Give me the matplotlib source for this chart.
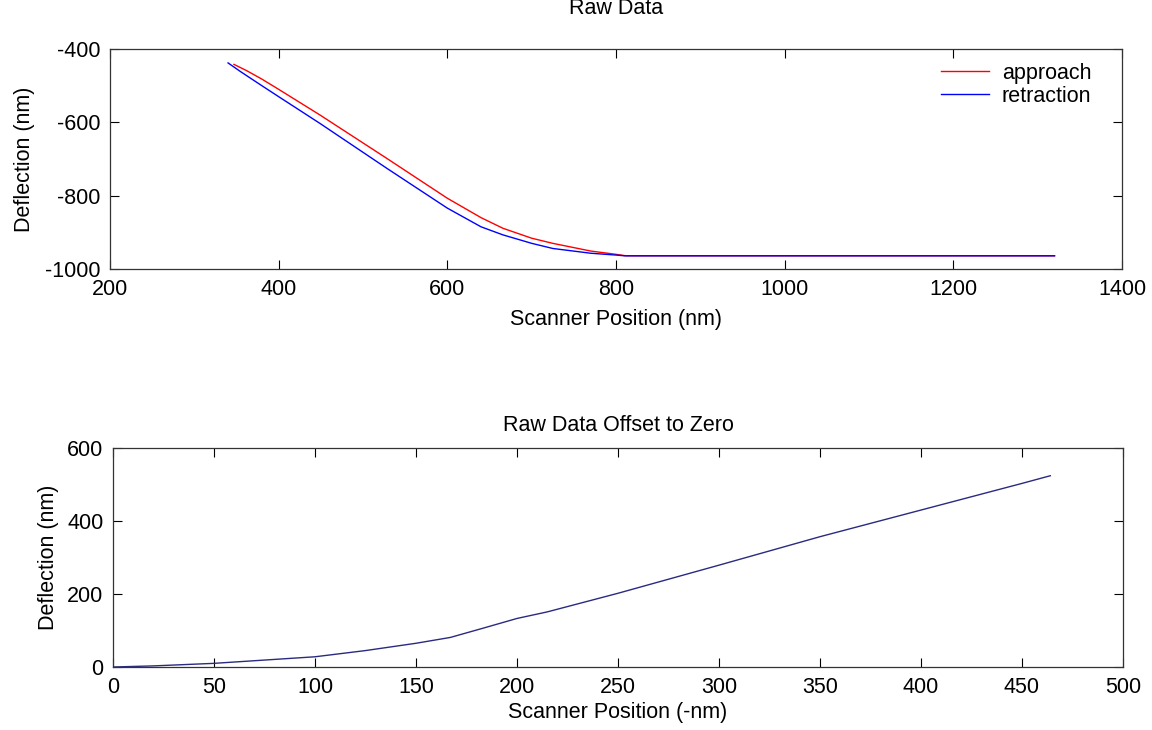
import matplotlib
matplotlib.use("Agg")
import matplotlib.pyplot as plt

# Raw force curve: scanner position (nm) vs cantilever deflection (nm)
approach_x = [347, 362, 380, 400, 449, 528, 600, 640, 666, 700, 725, 770, 800, 812, 1320]
approach_y = [-442, -459, -482, -510, -580, -698, -807, -860, -889, -916, -930, -951, -960, -964, -964]
retraction_x = [340, 355, 380, 400, 449, 528, 600, 640, 666, 700, 725, 770, 800, 810, 1320]
retraction_y = [-438, -462, -500, -530, -603, -725, -834, -885, -907, -930, -944, -957, -962, -964, -964]

# Offset curve: position relative to contact point vs deflection
offset_x = [0, 20, 50, 75, 100, 125, 150, 167, 183, 200, 215, 250, 300, 350, 400, 450, 464]
offset_y = [0, 3, 10, 19, 28, 45, 65, 81, 106, 133, 151, 202, 279, 357, 430, 503, 524]

top_xticks = [200, 400, 600, 800, 1000, 1200, 1400]
top_yticks = [-1000, -800, -600, -400]
bottom_xticks = [0, 50, 100, 150, 200, 250, 300, 350, 400, 450, 500]
bottom_yticks = [0, 200, 400, 600]

plt.rcParams["font.family"] = ["Liberation Sans", "DejaVu Sans"]
plt.rcParams["axes.unicode_minus"] = False
FS = 15.5

fig = plt.figure(figsize=(11.52, 7.30), dpi=100)
ax1 = fig.add_axes([110 / 1152, 1 - 269 / 730, 1012 / 1152, 220 / 730])
ax2 = fig.add_axes([113 / 1152, 1 - 667 / 730, 1010 / 1152, 219 / 730])

for ax in (ax1, ax2):
    ax.tick_params(direction="in", top=True, right=True, length=6.8, width=0.8,
                   labelsize=FS, pad=7, colors="black")
    for s in ax.spines.values():
        s.set_linewidth(0.9)
        s.set_color("#333333")

ax1.plot(approach_x, approach_y, color="#ff0000", lw=1.0, label="approach")
ax1.plot(retraction_x, retraction_y, color="#0000ff", lw=1.0, label="retraction")
ax1.set_xlim(200, 1400)
ax1.set_ylim(-1000, -400)
ax1.set_xticks(top_xticks)
ax1.set_yticks(top_yticks)
ax1.set_xlabel("Scanner Position (nm)", fontsize=FS, labelpad=7)
ax1.set_ylabel("Deflection (nm)", fontsize=FS, labelpad=7)
ax1.set_title("Raw Data", fontsize=FS, pad=25)
leg = ax1.legend(loc="upper right", bbox_to_anchor=(1 - 20 / 1012, 1 - 3 / 220),
                 fontsize=FS, frameon=False,
                 borderaxespad=0.0, handlelength=2.2, handletextpad=0.6,
                 labelspacing=0.1, borderpad=0.5)

ax2.plot(offset_x, offset_y, color="#2a2a80", lw=1.0)
ax2.set_xlim(0, 500)
ax2.set_ylim(0, 600)
ax2.set_xticks(bottom_xticks)
ax2.set_yticks(bottom_yticks)
ax2.set_xlabel("Scanner Position (-nm)", fontsize=FS, labelpad=3)
ax2.set_ylabel("Deflection (nm)", fontsize=FS, labelpad=6)
ax2.set_title("Raw Data Offset to Zero", fontsize=FS, pad=12)

fig.savefig("out.png", dpi=100, facecolor="white")
